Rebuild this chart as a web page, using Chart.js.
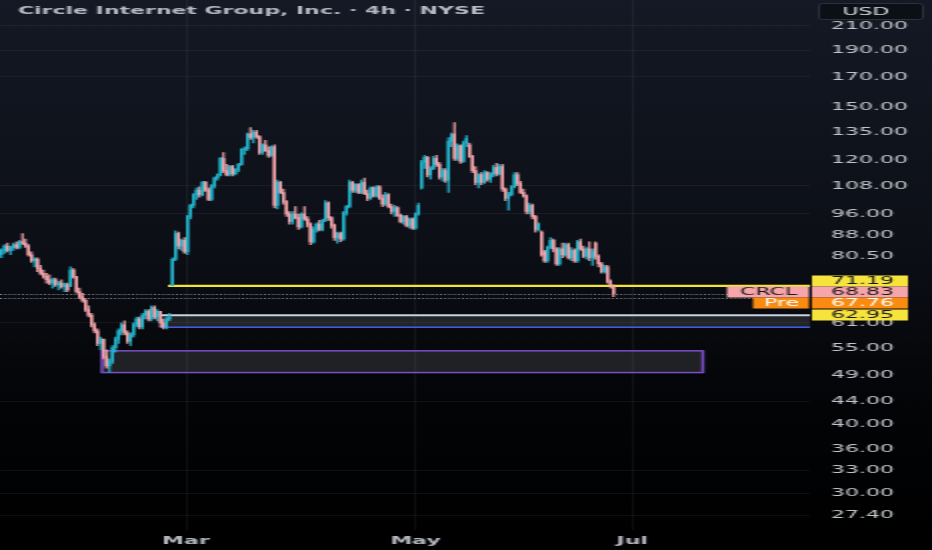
<!DOCTYPE html>
<html><head><meta charset="utf-8">
<script src="https://cdn.jsdelivr.net/npm/chart.js@4.4.1/dist/chart.umd.min.js"></script>
<style>html,body{margin:0;padding:0;background:#000;overflow:hidden}</style>
</head><body>
<canvas id="c" width="466" height="550" style="display:block;width:932px;height:550px"></canvas>
<script>
// ---- data (4h candles, bar index) ----
const opens = [81,82.5,84,82.5,83.5,84.5,83.5,85.5,85,84,81,79,79.5,76.5,75,74,73,72,73,71.5,72,71,71.5,71,76,74,69.5,68,67,64.5,63,60.5,59,56,57,53,51,52,55,57,59,60.5,58.5,56.5,58,60.5,62,60,63,64,62,65,62.5,64,61,60,62,71.2,79.5,88.5,84,86,82,95,99.5,104,106,104,109.5,106,102,108,111.5,113,121,115,113,117,113.5,115.5,118,125.5,126,134,132,135,132.5,124,128,125,122.5,127,99.5,109.5,105,101,96,93,96,94.5,91,96,94,92,85.5,90,92,90,93.5,100.5,94.5,91.5,87,88.5,86.5,96.5,99,109.5,106,108.5,105,109.5,104.5,102.5,107,103.5,107.5,102.5,100,104,99,97,98.5,95.5,93,95,91.5,94,90.5,96,107,119,121.5,113,116,121,118,112,115,110.5,130,134,121,127.5,119.5,129,128,122,115,109.5,113,109.5,114,111,113,116.5,113.5,117,106.5,102.5,104,107.5,113,109,105,103.5,97,99.5,95,90,89,82,79,83.5,86,83,78,83,81,84.5,80,82.5,79,85.5,83,80.5,83,80,85,80.5,78,75.5,77,72.5,71];
const highs = [83,84.5,85,84,85,85.5,86,88.5,86.5,84.5,82,80,80,77.5,76,75,74.5,73.5,73.5,72.5,73,72,72,77,76.5,74,70.5,69,67.5,65.5,63.5,61,59.5,57.5,57,54.5,52.5,55.5,57.5,59.5,61,61.5,59,58.5,61,62.5,62.5,63.5,64.5,64.5,65.5,65.5,64.5,64,62,62.5,63.5,80,89.5,89,86.5,87,95.5,100,104.5,107,107.5,110,110,107,108.5,112,113.5,121.5,124,118,117.5,117.5,116,118.5,126,127,134.5,137.5,136,136,133,128.5,130.5,127,127.5,128,110.5,110,106.5,101.5,97,97,99,96,96.5,99,95,92.5,91,92.5,93.5,94,101.5,101,95,92,89,89,97,99.5,110.5,110,109,109,110.5,111.5,106,107.5,107.5,108,108,104,105,104.5,100,99.5,99,96,95.5,95.5,94.5,94.5,96.5,100.5,120,122.5,122,117,122,122.5,119,116,116,132,134.5,140.5,128.5,128,130,133,129,122.5,117,113.5,114,115,114.5,114,117.5,118.5,118,118,107,105,108,114,114,110,106.5,104,100.5,100,95.5,92.5,89.5,82.5,84,87,86.5,83.5,83.5,85,85,85,83.5,83,86,86.5,84,83.5,85.5,83,85.5,81,78.5,77.5,77.5,73,71.5];
const lows = [80,81.5,82,81,82.5,83,83,84.5,83.5,80.5,78.5,77,75.5,74.5,73.5,72,71.5,70.5,71,70,70.5,69.5,69.5,71,73.5,69,67.5,66.5,64,62.5,60,58.5,55.5,54.5,52.5,50.5,49.7,51.5,54,56,58,58,56,55.5,57.5,60,59.5,59.5,62,61.5,61.5,62,61.5,60,59.5,59.5,61.5,71.19,79,83,82.5,81.5,81,94,98.5,102,103,103.5,105.5,101.5,101.5,107,110.5,112.5,114,112.5,112.5,112.5,113,114.5,117.5,123,125,131,129,131.5,123,123,124.5,121.5,122,98.5,98,104.5,100,95,92,92,94,90,90.5,93.5,91,84.5,85,89,89.5,89.5,93,93.5,90.5,86,85,85.5,86,95.5,98.5,105,105,104.5,104.5,104,101.5,102,103,103,102,99,99.5,98.5,96,95,95,92.5,92,91,90.5,90,90,95.5,106.5,116,112,111,115.5,117,111,110,109.5,105,127,120,120,118.5,119,127,121.5,114,108.5,107,108.5,109,110,109.5,112,112.5,113,105.5,101.5,97.5,103.5,107,108,104.5,103,96,96,94,89,89.5,80.5,78.5,78.5,83,82,77.5,77.5,80,80.5,79.5,79,78.5,78.5,82.5,80,79.5,79,77.5,79.5,77,75,75,72,70.5,68];
const closes = [82.5,84,82.5,83.5,84.5,83.5,85.5,85,84,81,79,79.5,76.5,75,74,73,72,73,71.5,72,71,71.5,70,76,74,69.5,68,67,64.5,63,60.5,59,56,57,53,51,52,55,57,59,60.5,58.5,56.5,58,60.5,62,60,63,64,62,65,62.5,64,61,60,62,62.5,79.5,88.5,84,86,82,95,99.5,104,106,104,109.5,106,102,108,111.5,113,121,115,113,117,113.5,115.5,118,125.5,126,134,132,135,132.5,124,128,125,122.5,127,99.5,109.5,105,101,96,93,96,94.5,91,96,94,92,85.5,90,92,90,93.5,100.5,94.5,91.5,87,88.5,86.5,96.5,99,109.5,106,108.5,105,109.5,104.5,102.5,107,103.5,107.5,102.5,100,104,99,97,98.5,95.5,93,95,91.5,94,90.5,96,99.5,119,121.5,113,116,121,118,112,115,110.5,130,133.5,121,127.5,119.5,129,131.5,122,115,109.5,113,109.5,114,111,113,116.5,113.5,117,106.5,102.5,104,107.5,113,109,105,103.5,97,99.5,95,90,92,81,79,83.5,86,83,78,83,81,84.5,80,82.5,79,85.5,83,80.5,83,80,82,80.5,78,75.5,77,72.5,71.5,68.83];

const yTickValues = [210,190,170,150,135,120,108,96,88,80.5,61,55,49,44,40,36,33,30,27.4];
const yGridValues = [210,190,170,108,96,61,44,33,30,27.4];
const xTickPositions = [61.5,138,210.3];
const xTickLabels = ['Mar','May','Jul'];

const titleText = 'Circle Internet Group, Inc. · 4h · NYSE';
const currencyText = 'USD';
const symbolText = 'CRCL';
const preText = 'Pre';
const levelLine = 71.19;      // horizontal level (yellow)
const lastPrice = 68.83;      // last close
const prePrice = 67.76;       // pre-market
const zoneA = [59.9, 62.95];  // grey zone low/high
const zoneAStart = 52.8;      // bar index where zone starts
const levelStart = 55.5;      // bar index where yellow level starts
const zoneB = [49.6, 54.3];   // purple zone low/high
const zoneBRange = [33.5, 233.8];

// ---- styling ----
const UP = '#22b8d0', DOWN = '#f5a6ac';
const FONT = '"DejaVu Sans", "Liberation Sans", sans-serif';
const candleColors = closes.map((c, i) => c >= opens[i] ? UP : DOWN);

const bgPlugin = {
  id: 'bg',
  beforeDraw(chart) {
    const {ctx, width, height} = chart;
    const g = ctx.createLinearGradient(0, 0, 0, height);
    g.addColorStop(0, '#151925');
    g.addColorStop(0.45, '#0c0f16');
    g.addColorStop(0.75, '#030406');
    g.addColorStop(1, '#000000');
    ctx.save();
    ctx.fillStyle = g;
    ctx.fillRect(0, 0, width, height);
    ctx.restore();
  }
};

const annoPlugin = {
  id: 'anno',
  beforeDatasetsDraw(chart) {
    const {ctx, chartArea: a, scales: {x, y}} = chart;
    ctx.save();
    ctx.beginPath();
    ctx.rect(a.left, a.top, a.right - a.left, a.bottom - a.top);
    ctx.clip();
    // purple zone
    let x1 = x.getPixelForValue(zoneBRange[0]), x2 = x.getPixelForValue(zoneBRange[1]);
    let yT = y.getPixelForValue(zoneB[1]), yB = y.getPixelForValue(zoneB[0]);
    ctx.fillStyle = 'rgba(150,150,150,0.19)';
    ctx.fillRect(x1, yT, x2 - x1, yB - yT);
    ctx.strokeStyle = '#7a4fc8';
    ctx.lineWidth = 1.5;
    ctx.strokeRect(x1, yT, x2 - x1, yB - yT);
    // grey zone
    x1 = x.getPixelForValue(zoneAStart); x2 = a.right;
    yT = y.getPixelForValue(zoneA[1]); yB = y.getPixelForValue(zoneA[0]);
    ctx.fillStyle = 'rgba(150,150,150,0.19)';
    ctx.fillRect(x1, yT, x2 - x1, yB - yT);
    ctx.lineWidth = 2;
    ctx.strokeStyle = '#c4d3e2';
    ctx.beginPath(); ctx.moveTo(x1, yT); ctx.lineTo(x2, yT); ctx.stroke();
    ctx.lineWidth = 1.5;
    ctx.strokeStyle = '#3e5fe6';
    ctx.beginPath(); ctx.moveTo(x1, yB); ctx.lineTo(x2, yB); ctx.stroke();
    // dotted price lines
    ctx.setLineDash([1, 1.2]);
    ctx.lineWidth = 1;
    ctx.strokeStyle = 'rgba(215,215,220,0.6)';
    [lastPrice, prePrice].forEach(v => {
      const py = Math.round(y.getPixelForValue(v)) + 0.5;
      ctx.beginPath(); ctx.moveTo(a.left, py); ctx.lineTo(a.right, py); ctx.stroke();
    });
    ctx.setLineDash([]);
    // yellow level
    const ly = y.getPixelForValue(levelLine);
    ctx.strokeStyle = '#f2e23c';
    ctx.lineWidth = 2.2;
    ctx.beginPath(); ctx.moveTo(x.getPixelForValue(levelStart), ly); ctx.lineTo(a.right, ly); ctx.stroke();
    ctx.restore();
  }
};

function tag(ctx, x1, x2, yc, h, bg, fg, text, align, tx) {
  ctx.fillStyle = bg;
  ctx.fillRect(x1, yc - h / 2, x2 - x1, h);
  ctx.fillStyle = fg;
  ctx.textAlign = align;
  ctx.textBaseline = 'middle';
  ctx.fillText(text, tx, yc + 0.5);
}

const labelPlugin = {
  id: 'labels',
  afterDraw(chart) {
    const {ctx, chartArea: a, scales: {y}} = chart;
    ctx.save();
    // title
    ctx.font = 'bold 11px ' + FONT;
    ctx.fillStyle = '#b6b9c1';
    ctx.textAlign = 'left';
    ctx.textBaseline = 'middle';
    ctx.fillText(titleText, 9, 11);
    // currency box
    ctx.fillStyle = '#0c0f15';
    ctx.strokeStyle = '#2c313c';
    ctx.lineWidth = 1;
    ctx.beginPath();
    ctx.roundRect(409.5, 3.5, 52, 16, 2);
    ctx.fill(); ctx.stroke();
    ctx.font = '11px ' + FONT;
    ctx.fillStyle = '#d6d9df';
    ctx.textAlign = 'center';
    ctx.fillText(currencyText, 433, 12);
    // price tags with overlap resolution
    const h = 11;
    const items = [
      {v: levelLine, bg: '#f6e43c', fg: '#15171c'},
      {v: lastPrice, bg: '#f6a5aa', fg: '#1a1a1e', side: symbolText, sideX: a.right - 41.5},
      {v: prePrice, bg: '#fa8a10', fg: '#ffffff', side: preText, sideX: a.right - 28.5},
      {v: zoneA[1], bg: '#f6e43c', fg: '#15171c'}
    ].map(o => Object.assign(o, {py: y.getPixelForValue(o.v)}));
    items.sort((p, q) => p.py - q.py);
    for (let it = 0; it < 60; it++) {
      for (let i = 0; i < items.length - 1; i++) {
        const gap = items[i + 1].py - items[i].py;
        if (gap < h) { const d = (h - gap) / 2; items[i].py -= d; items[i + 1].py += d; }
      }
    }
    ctx.font = '11px ' + FONT;
    items.forEach(o => {
      const yc = Math.round(o.py);
      tag(ctx, a.right + 1, 454, yc, h, o.bg, o.fg, o.v.toFixed(2), 'left', a.right + 10.5);
      if (o.side) tag(ctx, o.sideX, a.right - 0.5, yc, h, o.bg, o.fg, o.side, 'center', (o.sideX + a.right) / 2);
    });
    ctx.restore();
  }
};

const idx = opens.map((_, i) => i);
const canvas = document.getElementById('c');
new Chart(canvas, {
  type: 'bar',
  data: {
    datasets: [
      {label: 'wick', data: idx.map(i => ({x: i, y: [lows[i], highs[i]]})), backgroundColor: candleColors,
       barThickness: 0.45, grouped: false, order: 2, borderWidth: 0},
      {label: 'body', data: idx.map(i => ({x: i, y: [opens[i], closes[i]]})), backgroundColor: candleColors,
       barThickness: 0.9, grouped: false, order: 1, borderWidth: 0}
    ]
  },
  options: {
    responsive: false,
    devicePixelRatio: 1,
    animation: false,
    events: [],
    layout: {padding: 0, autoPadding: false},
    plugins: {legend: {display: false}, tooltip: {enabled: false}, title: {display: false}},
    scales: {
      x: {
        type: 'linear', min: -0.5, max: 269.5, offset: false,
        grid: {offset: false, color: 'rgba(255,255,255,0.05)', lineWidth: 1, drawTicks: false},
        border: {display: false},
        ticks: {
          color: '#b4b7bf', font: {family: FONT, size: 11, weight: 'bold'}, padding: 5,
          maxRotation: 0, autoSkip: false,
          callback: (v, i) => xTickLabels[i]
        },
        afterBuildTicks: ax => { ax.ticks = xTickPositions.map(v => ({value: v})); },
        afterFit: ax => { ax.height = 20; ax.paddingLeft = 0; ax.paddingRight = 0; }
      },
      y: {
        type: 'logarithmic', position: 'right', min: 25.75, max: 234,
        grid: {
          color: c => (c.tick && yGridValues.includes(c.tick.value)) ? 'rgba(255,255,255,0.05)' : 'rgba(0,0,0,0)',
          lineWidth: 1, drawTicks: false
        },
        border: {display: false},
        ticks: {
          color: '#c2c5cb', font: {family: FONT, size: 11}, padding: 10.5,
          autoSkip: false, callback: v => Number(v).toFixed(2)
        },
        afterBuildTicks: ax => { ax.ticks = yTickValues.map(v => ({value: v})); },
        afterFit: ax => { ax.width = 61; ax.paddingTop = 0; ax.paddingBottom = 0; }
      }
    }
  },
  plugins: [bgPlugin, annoPlugin, labelPlugin]
});
canvas.style.width = '932px';
canvas.style.height = '550px';
</script>
</body></html>
